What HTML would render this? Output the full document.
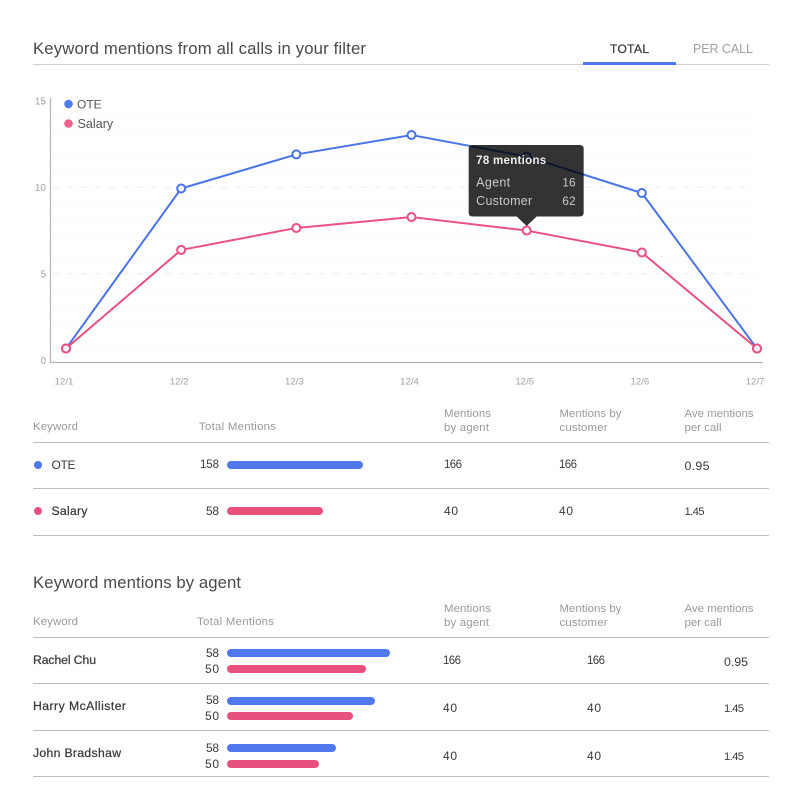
<!DOCTYPE html>
<html lang="en">
<head>
<meta charset="utf-8">
<title>Keyword mentions</title>
<style>
html,body{margin:0;padding:0;background:#fff;}
body{width:792px;height:802px;position:relative;overflow:hidden;font-family:"Liberation Sans",sans-serif;}
.t{position:absolute;white-space:nowrap;line-height:14px;height:14px;}
.title{font-size:16.7px;color:#4a4a4a;line-height:20px;height:20px;}
.head{font-size:11.4px;color:#999;}
.val{font-size:12px;color:#3a3a3a;}
.n3{font-size:11.5px;}
.n4{font-size:12.4px;}
.n5{font-size:11.3px;}
.name{font-size:12.2px;color:#3a3a3a;-webkit-text-stroke:.25px #3a3a3a;}
.rule{position:absolute;left:33px;width:736px;height:1px;background:#bdbdbd;}
.bar{position:absolute;left:227px;height:8px;border-radius:4px;}
.blue{background:#4f78ec;}
.pink{background:#e8507e;}
.dot{position:absolute;width:8px;height:8px;border-radius:50%;}
#chart{position:absolute;left:0;top:0;}
</style>
</head>
<body>

<div class="t title" style="left:33px;top:39px" data-fit="333">Keyword mentions from all calls in your filter</div>
<div class="rule" style="top:64px;background:#cfcfcf"></div>
<div class="t" style="left:610px;top:42px;font-size:12px;color:#3a3a3a;-webkit-text-stroke:.25px #3a3a3a" data-fit="39">TOTAL</div>
<div class="t" style="left:693px;top:42px;font-size:12.5px;color:#a0a0a0" data-fit="60">PER CALL</div>
<div style="position:absolute;left:583px;top:62px;width:93px;height:3px;background:#4f78ec"></div>

<svg id="chart" width="792" height="802" viewBox="0 0 792 802" xmlns="http://www.w3.org/2000/svg" font-family="'Liberation Sans',sans-serif">
  <g id="grid"></g>
  <line x1="50.5" y1="98" x2="50.5" y2="362.5" stroke="#b5b5b5" stroke-width="1.2"></line>
  <line x1="50" y1="362.5" x2="763" y2="362.5" stroke="#b5b5b5" stroke-width="1.2"></line>
  <g id="yticks"></g>
  <g id="xticks"></g>
  <g id="series"></g>
  <g>
    <circle cx="68.5" cy="104" r="4.3" fill="#4f7bf0"></circle>
    <text x="77" y="108.3" font-size="12" fill="#555">OTE</text>
    <circle cx="68.5" cy="123.5" r="4.3" fill="#f55f8c"></circle>
    <text x="77.5" y="127.8" font-size="12.6" fill="#555">Salary</text>
  </g>
  <g id="tooltip">
    <path d="M-54,-81 H53 Q57,-81 57,-77 V-13.5 Q57,-9.5 53,-9.5 H10 L0,0 L-10,-9.5 H-54 Q-58,-9.5 -58,-13.5 V-77 Q-58,-81 -54,-81 Z" fill="rgba(0,0,0,.8)"></path>
    <text x="-50.5" y="-62" font-size="11.5" font-weight="bold" fill="#eee" textLength="70" lengthAdjust="spacing">78 mentions</text>
    <text x="-50.5" y="-39.5" font-size="12.5" fill="#c8c8c8" textLength="34" lengthAdjust="spacing">Agent</text>
    <text x="49" y="-39.5" font-size="12" fill="#c8c8c8" text-anchor="end">16</text>
    <text x="-50.5" y="-21" font-size="12.5" fill="#c8c8c8" textLength="56" lengthAdjust="spacing">Customer</text>
    <text x="49" y="-21" font-size="12" fill="#c8c8c8" text-anchor="end">62</text>
  </g>
</svg>

<!-- Table 1 -->
<div class="t head" style="left:33px;top:420px" data-fit="45">Keyword</div>
<div class="t head" style="left:199px;top:420px" data-fit="77">Total Mentions</div>
<div class="t head" style="left:444px;top:406.5px" data-fit="47">Mentions</div>
<div class="t head" style="left:444px;top:420.5px" data-fit="45">by agent</div>
<div class="t head" style="left:559.5px;top:406.5px" data-fit="62">Mentions by</div>
<div class="t head" style="left:559.5px;top:420.5px" data-fit="48">customer</div>
<div class="t head" style="left:684.5px;top:406.5px" data-fit="69">Ave mentions</div>
<div class="t head" style="left:684.5px;top:420.5px" data-fit="37">per call</div>
<div class="rule" style="top:442px"></div>

<div class="dot blue" style="left:33.5px;top:461px"></div>
<div class="t val" style="left:51.5px;top:458px" data-fit="24">OTE</div>
<div class="t val n3" style="left:200px;top:458px" data-fit="19">158</div>
<div class="bar blue" style="top:461px" data-bar="k0"></div>
<div class="t val n3" style="left:444px;top:458px" data-fit="18">166</div>
<div class="t val n3" style="left:559px;top:458px" data-fit="18">166</div>
<div class="t val n4" style="left:684.5px;top:459px" data-fit="25">0.95</div>
<div class="rule" style="top:488px"></div>

<div class="dot pink" style="left:33.5px;top:507px"></div>
<div class="t name" style="left:51.5px;top:504px" data-fit="36">Salary</div>
<div class="t val" style="left:206px;top:504px" data-fit="13">58</div>
<div class="bar pink" style="top:507px" data-bar="k1"></div>
<div class="t val" style="left:444px;top:504px" data-fit="14">40</div>
<div class="t val" style="left:559px;top:504px" data-fit="14">40</div>
<div class="t val n5" style="left:684.5px;top:505px" data-fit="20">1.45</div>
<div class="rule" style="top:535px"></div>

<!-- Table 2 -->
<div class="t title" style="left:33px;top:573px" data-fit="208">Keyword mentions by agent</div>
<div class="t head" style="left:33px;top:615px" data-fit="45">Keyword</div>
<div class="t head" style="left:197px;top:615px" data-fit="77">Total Mentions</div>
<div class="t head" style="left:444px;top:601.5px" data-fit="47">Mentions</div>
<div class="t head" style="left:444px;top:615.5px" data-fit="45">by agent</div>
<div class="t head" style="left:559.5px;top:601.5px" data-fit="62">Mentions by</div>
<div class="t head" style="left:559.5px;top:615.5px" data-fit="48">customer</div>
<div class="t head" style="left:684.5px;top:601.5px" data-fit="69">Ave mentions</div>
<div class="t head" style="left:684.5px;top:615.5px" data-fit="37">per call</div>
<div class="rule" style="top:637px"></div>

<div class="t name" style="left:33px;top:653px" data-fit="63">Rachel Chu</div>
<div class="t val" style="left:206px;top:645.5px" data-fit="13">58</div>
<div class="t val" style="left:205px;top:661.5px" data-fit="14">50</div>
<div class="bar blue" style="top:649px" data-bar="a0"></div>
<div class="bar pink" style="top:665px" data-bar="b0"></div>
<div class="t val n3" style="left:443px;top:653.5px" data-fit="18">166</div>
<div class="t val n3" style="left:587px;top:653.5px" data-fit="18">166</div>
<div class="t val n4" style="left:724px;top:654.5px" data-fit="24">0.95</div>
<div class="rule" style="top:683px"></div>

<div class="t name" style="left:33px;top:699px" data-fit="93">Harry McAllister</div>
<div class="t val" style="left:206px;top:693px" data-fit="13">58</div>
<div class="t val" style="left:205px;top:709px" data-fit="14">50</div>
<div class="bar blue" style="top:696.5px" data-bar="a1"></div>
<div class="bar pink" style="top:712px" data-bar="b1"></div>
<div class="t val" style="left:443px;top:701px" data-fit="14">40</div>
<div class="t val" style="left:587px;top:701px" data-fit="14">40</div>
<div class="t val n5" style="left:724px;top:702px" data-fit="20">1.45</div>
<div class="rule" style="top:730px"></div>

<div class="t name" style="left:33px;top:745.5px" data-fit="88">John Bradshaw</div>
<div class="t val" style="left:206px;top:741px" data-fit="13">58</div>
<div class="t val" style="left:205px;top:756.5px" data-fit="14">50</div>
<div class="bar blue" style="top:744px" data-bar="a2"></div>
<div class="bar pink" style="top:759.5px" data-bar="b2"></div>
<div class="t val" style="left:443px;top:748.5px" data-fit="14">40</div>
<div class="t val" style="left:587px;top:748.5px" data-fit="14">40</div>
<div class="t val n5" style="left:724px;top:749.5px" data-fit="20">1.45</div>
<div class="rule" style="top:776px"></div>

<script>
var categories = ["12/1","12/2","12/3","12/4","12/5","12/6","12/7"];
var oteValues = [0.68,9.93,11.9,13.02,11.78,9.67,0.68];
var salaryValues = [0.68,6.38,7.65,8.28,7.5,6.23,0.68];
var yTickValues = [0,5,10,15];
var dashedGridValues = [5,10];
var dottedGridValues = [0.5,2,3,4,6,7,8,9,11,12,13,14];
var tooltipIndex = 4;
var keywordBarValues = [158,111.6];
var agentOteBarValues = [189.5,172,126.7];
var agentSalaryBarValues = [161.6,146.5,107];

var NS = "http://www.w3.org/2000/svg";
function xScale(i){ return 66 + i * (757 - 66) / (categories.length - 1); }
function yScale(v){ return 360.3 - 17.3 * v; }
function barWidth(v){ return v * 0.86; }
function svgEl(tag, attrs, parent){
  var el = document.createElementNS(NS, tag);
  for (var k in attrs) el.setAttribute(k, attrs[k]);
  parent.appendChild(el);
  return el;
}

var grid = document.getElementById("grid");
dottedGridValues.forEach(function(v){
  var ln = svgEl("line", {x1:53, x2:754, y1:yScale(v), y2:yScale(v), stroke:"#e8e8e8", "stroke-width":1, "stroke-dasharray":"1 7"}, grid);
  
  
});
dashedGridValues.forEach(function(v){
  var ln = svgEl("line", {x1:53, x2:754, y1:yScale(v), y2:yScale(v), stroke:"#ececec", "stroke-width":1, "stroke-dasharray":"6 8"}, grid);
  
  
});

var yticks = document.getElementById("yticks");
yTickValues.forEach(function(v){
  var t = svgEl("text", {x:46, y:yScale(v) + 3.5, "font-size":10, fill:"#a0a0a0", "text-anchor":"end"}, yticks);
  t.textContent = String(v);
  
  
});

var xticks = document.getElementById("xticks");
categories.forEach(function(c, i){
  var t = svgEl("text", {x:xScale(i) - 2, y:384.5, "font-size":9.6, fill:"#a0a0a0", "text-anchor":"middle"}, xticks);
  t.textContent = c;
  
  
});

function drawSeries(values, color, name){
  var g = document.getElementById("series");
  var pts = values.map(function(v, i){ return xScale(i) + "," + yScale(v); }).join(" ");
  var line = svgEl("polyline", {points:pts, fill:"none", stroke:color, "stroke-width":2, "stroke-linejoin":"round"}, g);
  
  
  values.forEach(function(v, i){
    var c = svgEl("circle", {cx:xScale(i), cy:yScale(v), r:4, fill:"#fff", stroke:color, "stroke-width":2}, g);
    
    
  });
}
drawSeries(oteValues, "#4a74ea", "ote");
drawSeries(salaryValues, "#ec5080", "salary");

document.getElementById("tooltip").setAttribute("transform",
  "translate(" + xScale(tooltipIndex) + "," + (yScale(salaryValues[tooltipIndex]) - 4.5) + ")");

var barGroups = {k:keywordBarValues, a:agentOteBarValues, b:agentSalaryBarValues};
document.querySelectorAll("[data-bar]").forEach(function(el){
  var key = el.getAttribute("data-bar");
  el.style.width = barWidth(barGroups[key.charAt(0)][+key.slice(1)]) + "px";
});

document.querySelectorAll("[data-fit]").forEach(function(el){
  var target = +el.getAttribute("data-fit");
  var w = el.getBoundingClientRect().width;
  var n = el.textContent.length;
  if (n > 1) el.style.letterSpacing = ((target - w) / (n - 1)) + "px";
});
</script>
</body>
</html>
